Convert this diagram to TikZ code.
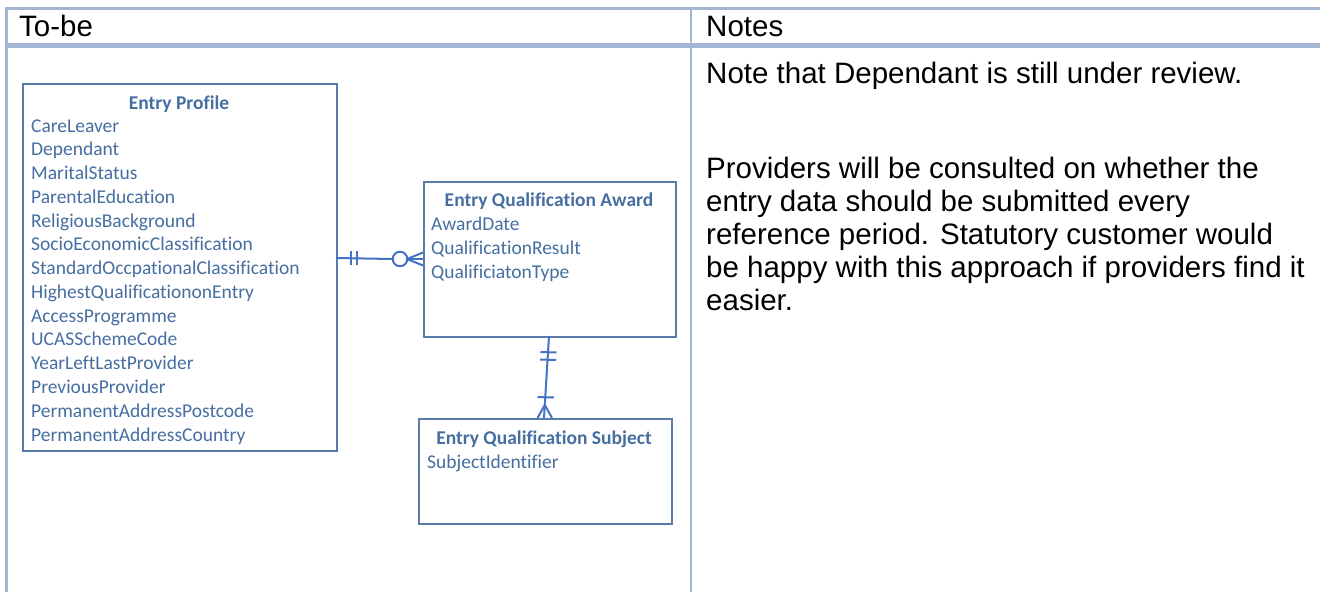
\documentclass[tikz,border=0pt]{standalone}
\usepackage{fontspec}
\setmainfont{Liberation Sans}
\newfontfamily\calib[Ligatures=NoCommon]{Carlito}
\definecolor{tbl}{RGB}{164,181,212}
\definecolor{ertext}{RGB}{70,110,160}
\definecolor{erborder}{RGB}{88,124,170}
\definecolor{relc}{RGB}{68,114,196}
\begin{document}
\begin{tikzpicture}[x=1pt,y=-1pt,
  tblline/.style={draw=tbl, line width=3pt},
  hdr/.style={font=\fontsize{29.5}{34}\selectfont, anchor=base west, inner sep=0pt},
  note/.style={font=\fontsize{29.5}{33}\selectfont, anchor=base west, inner sep=0pt},
  entity/.style={draw=erborder, line width=1.6pt, inner sep=0pt, anchor=north west},
  ertitle/.style={font=\calib\bfseries\fontsize{19.5}{23.8}\selectfont, text=ertext, anchor=base, inner sep=0pt},
  erattr/.style={font=\calib\fontsize{19.5}{23.8}\selectfont, text=ertext, anchor=base west, inner sep=0pt},
  rel/.style={draw=relc, line width=2pt}]
\useasboundingbox (0,0) rectangle (1320,592);
\fill[white] (0,0) rectangle (1320,592);
% table grid
\coordinate (tl) at (4.5,8);
\coordinate (tr) at (1320,8);
\coordinate (hl) at (4.5,45);
\coordinate (hr) at (1320,45);
\coordinate (lt) at (6,8);
\coordinate (bl) at (6,592);
\coordinate (dt) at (691,8);
\coordinate (db) at (691,592);
\draw[tblline] (tl) -- (tr);
\draw[tblline, line width=5pt] (hl) -- (hr);
\draw[tblline] (lt) -- (bl);
\draw[tblline, line width=2.5pt] (dt) -- (db);
% headers
\node[hdr] (h1) at (19,36) {To-be};
\node[hdr] (h2) at (706,36) {Notes};
% notes
\node[note] (n1) at (706,83) {Note that Dependant is still under review.};
\node[note] (n2) at (706,178) {Providers will be consulted on whether the};
\node[note] (n3) at (706,211) {entry data should be submitted every};
\node[note] (n4) at (706,244) {reference period. Statutory customer would};
\node[note] (n5) at (706,277) {be happy with this approach if providers find it};
\node[note] (n6) at (706,310) {easier.};
% entities
\node[entity, minimum width=314pt, minimum height=367pt] (ep) at (22,83) {};
\node[entity, minimum width=252pt, minimum height=155pt] (eqa) at (423,181) {};
\node[entity, minimum width=253pt, minimum height=105pt] (eqs) at (418,418) {};
\node[ertitle] (ept) at (179,109) {Entry Profile};
\foreach \t [count=\i] in {CareLeaver,Dependant,MaritalStatus,ParentalEducation,ReligiousBackground,SocioEconomicClassification,StandardOccpationalClassification,HighestQualificationonEntry,AccessProgramme,UCASSchemeCode,YearLeftLastProvider,PreviousProvider,PermanentAddressPostcode,PermanentAddressCountry}
  \node[erattr] (epa\i) at (31,{132+(\i-1)*23.77}) {\t};
\node[ertitle] (eqat) at (549,206) {Entry Qualification Award};
\foreach \t [count=\i] in {AwardDate,QualificationResult,QualificiatonType}
  \node[erattr] (eqaa\i) at (431,{230+(\i-1)*24}) {\t};
\node[ertitle] (eqst) at (544,444) {Entry Qualification Subject};
\node[erattr] (eqsa1) at (427,468) {SubjectIdentifier};
% relationship 1: one-and-only-one to zero-or-many
\coordinate (r1a) at (336,258);
\coordinate (r1v) at (407,259);
\coordinate (r1b) at (423,259);
\coordinate (r1t) at (423,252.5);
\coordinate (r1u) at (423,265.5);
\node[circle, draw=relc, line width=2pt, minimum size=14.5pt, inner sep=0pt] (r1c) at (400,259) {};
\draw[rel] (r1a) -- (r1c.west);
\draw[rel] (r1c.east) -- (r1b);
\draw[rel] (r1v) -- (r1t);
\draw[rel] (r1v) -- (r1u);
\draw[rel] (351,251) -- (351,265);
\draw[rel] (357,251) -- (357,265);
% relationship 2: one-and-only-one to one-or-many
\coordinate (r2a) at (549,336);
\coordinate (r2b) at (544,418);
\coordinate (r2v) at (544.8,405);
\coordinate (r2l) at (537.5,418);
\coordinate (r2r) at (552,418);
\draw[rel] (r2a) -- (r2b);
\draw[rel] (r2v) -- (r2l);
\draw[rel] (r2v) -- (r2r);
\draw[rel] (540.5,352) -- (556.5,352.5);
\draw[rel] (540,359.5) -- (556,360);
\draw[rel] (537.5,397) -- (554,397.5);
\end{tikzpicture}
\end{document}
